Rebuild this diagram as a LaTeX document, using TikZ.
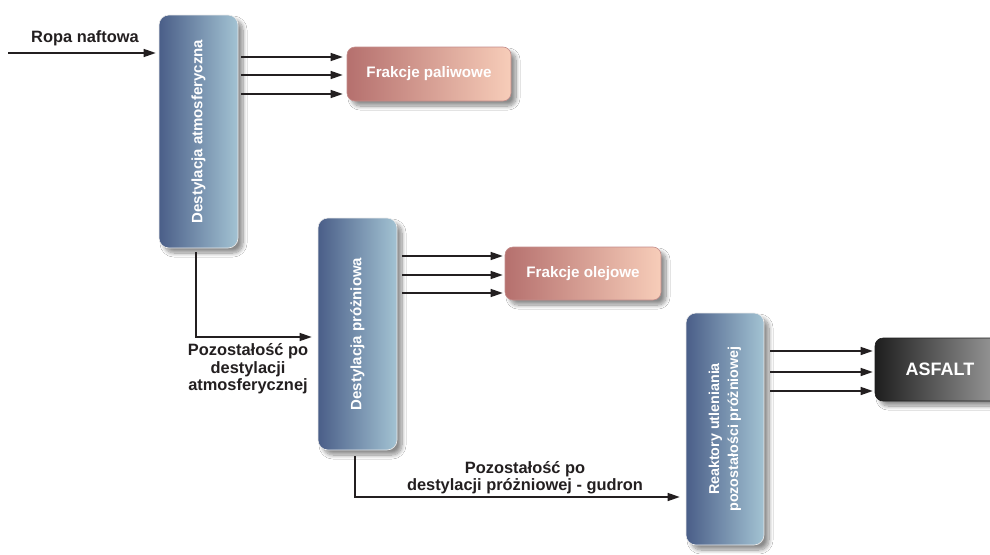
\documentclass[tikz,border=0pt]{standalone}
\usepackage{fontspec}
\setmainfont{Liberation Sans}
\usetikzlibrary{arrows.meta,shadows.blur}
\definecolor{blueL}{HTML}{4A5E88}
\definecolor{blueR}{HTML}{A3C3D3}
\definecolor{pinkL}{HTML}{B5706E}
\definecolor{pinkR}{HTML}{F7CDB9}
\definecolor{darkL}{HTML}{1E1E1E}
\definecolor{darkR}{HTML}{A0A0A0}
\definecolor{txt}{HTML}{231F20}
\tikzset{
  shad/.style={blur shadow={shadow xshift=5pt, shadow yshift=-5pt, shadow blur radius=4pt, shadow blur steps=10, shadow opacity=45}},
  column/.style={shad, rounded corners=10pt, left color=blueL, right color=blueR, draw=white!85!gray, line width=0.6pt, inner sep=0pt},
  fracbox/.style={shad, rounded corners=8pt, left color=pinkL, right color=pinkR, draw=pinkL!80!white, line width=0.6pt, inner sep=0pt, text=white, font=\bfseries\fontsize{15.2}{17}\selectfont},
  asfbox/.style={shad, rounded corners=8pt, left color=darkL, right color=darkR, draw=darkL, line width=0.6pt, inner sep=0pt, text=white, font=\bfseries\fontsize{18}{20}\selectfont},
  vlabel/.style={rotate=90, text=white, align=center, font=\bfseries\fontsize{15}{18}\selectfont},
  lbl/.style={text=txt, align=center, font=\bfseries\fontsize{16.4}{17.5}\selectfont},
  arr/.style={draw=txt, line width=1.4pt, -{Triangle[length=12pt,width=8pt]}},
  line/.style={draw=txt, line width=1.4pt}
}
\begin{document}
\begin{tikzpicture}[x=1pt,y=-1pt]
\useasboundingbox (0,0) rectangle (990,554);
\fill[white] (0,0) rectangle (990,554);
% boxes
\node[column, minimum width=79pt, minimum height=233pt] (b1) at (198.5,131.5) {};
\node[vlabel] (t1) at (b1.center) {Destylacja atmosferyczna};
\node[fracbox, minimum width=164pt, minimum height=54pt] (f1) at (429,74) {Frakcje paliwowe};
\node[column, minimum width=79pt, minimum height=232pt] (b2) at (357.5,334) {};
\node[vlabel] (t2) at (b2.center) {Destylacja próżniowa};
\node[fracbox, minimum width=156pt, minimum height=53pt] (f2) at (583,273.5) {Frakcje olejowe};
\node[column, minimum width=78pt, minimum height=232pt] (b3) at (725,429) {};
\node[vlabel, font=\bfseries\fontsize{14.3}{19}\selectfont] (t3) at (b3.center) {Reaktory utleniania\\pozostałości próżniowej};
\node[asfbox, minimum width=130pt, minimum height=63pt] (f3) at (940,369.5) {ASFALT};
% input
\coordinate (in) at (8,53);
\draw[arr] (in) -- ([xshift=-3pt]b1.west |- in);
\node[lbl] (lin) at (85,38) {Ropa naftowa};
% fractions 1
\draw[arr] ([xshift=3pt,yshift=17pt]b1.east |- f1.west) -- ([xshift=-4pt,yshift=17pt]f1.west);
\draw[arr] ([xshift=3pt,yshift=-1pt]b1.east |- f1.west) -- ([xshift=-4pt,yshift=-1pt]f1.west);
\draw[arr] ([xshift=3pt,yshift=-20pt]b1.east |- f1.west) -- ([xshift=-4pt,yshift=-20pt]f1.west);
% fractions 2
\draw[arr] ([xshift=5pt,yshift=17.5pt]b2.east |- f2.west) -- ([xshift=-2pt,yshift=17.5pt]f2.west);
\draw[arr] ([xshift=5pt,yshift=-1.5pt]b2.east |- f2.west) -- ([xshift=-2pt,yshift=-1.5pt]f2.west);
\draw[arr] ([xshift=5pt,yshift=-19.5pt]b2.east |- f2.west) -- ([xshift=-2pt,yshift=-19.5pt]f2.west);
% fractions 3
\draw[arr] ([xshift=6pt,yshift=18.5pt]b3.east |- f3.west) -- ([xshift=-2pt,yshift=18.5pt]f3.west);
\draw[arr] ([xshift=6pt,yshift=-2.5pt]b3.east |- f3.west) -- ([xshift=-2pt,yshift=-2.5pt]f3.west);
\draw[arr] ([xshift=6pt,yshift=-21.5pt]b3.east |- f3.west) -- ([xshift=-2pt,yshift=-21.5pt]f3.west);
% residue connectors
\draw[arr] ([xshift=-2.5pt,yshift=-4pt]b1.south) |- ([xshift=-6pt,yshift=-3pt]b2.west);
\node[lbl] (l1) at (248,369) {Pozostałość po\\destylacji\\atmosferycznej};
\draw[arr] ([xshift=-2.5pt,yshift=-6pt]b2.south) |- ([xshift=-6pt,yshift=-68pt]b3.west);
\node[lbl] (l2) at (525,477.5) {Pozostałość po\\destylacji próżniowej - gudron};
\end{tikzpicture}
\end{document}
